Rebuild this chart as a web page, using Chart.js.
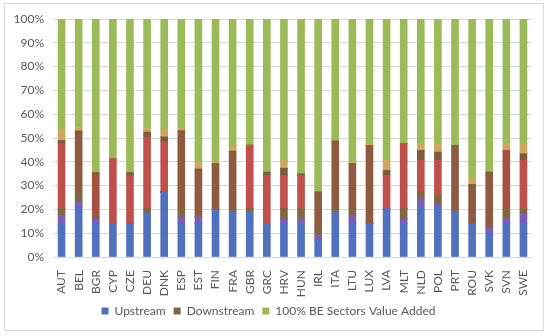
<!DOCTYPE html>
<html>
<head>
<meta charset="utf-8">
<script src="https://cdn.jsdelivr.net/npm/chart.js@4/dist/chart.umd.min.js"></script>
<style>
  html, body { margin: 0; padding: 0; background: #fff; }
  #wrap { position: relative; width: 550px; height: 336px; }
</style>
</head>
<body>
<div id="wrap"><canvas id="barChart" width="550" height="336"></canvas></div>
<script>
// 國家代碼
const countries = ['AUT', 'BEL', 'BGR', 'CYP', 'CZE', 'DEU', 'DNK', 'ESP', 'EST', 'FIN', 'FRA', 'GBR', 'GRC', 'HRV',
    'HUN', 'IRL', 'ITA', 'LTU', 'LUX', 'LVA', 'MLT', 'NLD', 'POL', 'PRT', 'ROU', 'SVK', 'SVN', 'SWE'];

// 各段高度 (%)，由下往上
const upstream     = [13.8, 21, 14, 14, 14, 18.5, 27.3, 14, 14, 19.8, 19, 19, 13.8, 14, 14, 7, 19, 14, 14, 20.2, 14, 21, 21, 18.9, 14, 10, 14, 14];
const upOverlap    = [3.6, 2, 2, 0, 0, 0, 0, 2.8, 2.8, 0, 0, 0, 0, 2, 2, 2, 0, 3.5, 0, 0, 2, 3.5, 1.4, 0, 0, 2, 2, 4.2];
const downstream   = [3.0, 4.3, 1, 0, 0, 1.8, 0, 3.5, 0.2, 0.5, 1.3, 1.3, 0, 4.3, 4.3, 3.6, 1.3, 2.8, 0, 0, 4.3, 2.8, 3.6, 1.4, 0, 1.3, 4, 2.1];
const downMid      = [27.2, 24.7, 17.3, 27.3, 20.3, 30.1, 21.2, 32.7, 18.5, 18.2, 23.7, 26.7, 20.5, 14, 14, 14.7, 28, 18.9, 32.9, 14.1, 27.3, 13.3, 14.6, 26.6, 15.4, 21, 24.8, 20.3];
const downTop      = [1.4, 1, 1.2, 0, 1.2, 2.1, 2, 0, 1.5, 0.8, 0.5, 0, 1.4, 3, 0.7, 0, 0.5, 0, 0, 2.1, 0, 4.2, 3.5, 0, 1.1, 1.4, 0, 2.8];
const beEdge       = [4.8, 1.5, 0, 0, 0, 1.5, 3.3, 1.2, 3, 0.7, 2, 0, 0, 3.2, 0, 0, 0, 0.8, 0.6, 4.2, 0, 2.8, 3.5, 0, 2.5, 0, 2.8, 4.2];
const beValueAdded = [46.2, 45.5, 64.5, 58.7, 64.5, 46, 46.2, 45.8, 60, 60, 53.5, 53, 64.3, 59.5, 65, 72.7, 51.2, 60, 52.5, 59.4, 52.4, 52.4, 52.4, 53.1, 67, 64.3, 52.4, 52.4];

// y 軸刻度
const yTicks = [0, 10, 20, 30, 40, 50, 60, 70, 80, 90, 100];

// 顏色
const RED = '#BF504C';
const BROWN = '#8E5A40';
const RBROWN = '#A4523F';
const midColors = [RED, BROWN, RBROWN, RED, RED, RED, RED, BROWN, BROWN, BROWN, BROWN, RED, RED, RED,
    RED, BROWN, BROWN, BROWN, BROWN, RED, RED, RED, RED, BROWN, BROWN, BROWN, RBROWN, RED];

const textColor = '#595959';
const fontFamily = 'Lato, "Liberation Sans", sans-serif';

// 外框
const framePlugin = {
    id: 'frame',
    afterDraw(chart) {
        const c = chart.ctx;
        c.save();
        c.strokeStyle = '#D9D9D9';
        c.lineWidth = 1;
        c.strokeRect(4.5, 3.5, 539, 327);
        c.restore();
    }
};

const legendNames = ['Upstream', 'Downstream', '100% BE Sectors Value Added'];

const ctx = document.getElementById('barChart').getContext('2d');
new Chart(ctx, {
    type: 'bar',
    data: {
        labels: countries,
        datasets: [
            { label: 'Upstream', data: upstream, backgroundColor: '#4F71BE' },
            { label: 'up-overlap', data: upOverlap, backgroundColor: '#7B5CBE' },
            { label: 'Downstream', data: downstream, backgroundColor: '#7E6741' },
            { label: 'down-mid', data: downMid, backgroundColor: midColors },
            { label: 'down-top', data: downTop, backgroundColor: '#7E5C3E' },
            { label: 'be-edge', data: beEdge, backgroundColor: '#CFA75E' },
            { label: '100% BE Sectors Value Added', data: beValueAdded, backgroundColor: '#9BBB59' }
        ]
    },
    options: {
        responsive: false,
        animation: false,
        devicePixelRatio: 1,
        layout: { padding: { left: 5, right: 18, top: 19, bottom: 9 } },
        datasets: { bar: { barThickness: 7 } },
        scales: {
            x: {
                stacked: true,
                grid: { display: false },
                border: { display: true, color: '#D9D9D9' },
                ticks: {
                    color: textColor,
                    font: { family: fontFamily, size: 12 },
                    minRotation: 90,
                    maxRotation: 90,
                    autoSkip: false,
                    padding: 5
                },
                afterFit: s => { s.height = 40; }
            },
            y: {
                stacked: true,
                min: 0,
                max: 100,
                grid: { color: '#D9D9D9', drawTicks: false },
                border: { display: false },
                afterBuildTicks: s => { s.ticks = yTicks.map(v => ({ value: v })); },
                ticks: {
                    color: textColor,
                    font: { family: fontFamily, size: 12 },
                    padding: 9,
                    callback: v => v + '%'
                },
                afterFit: s => { s.width = 48; }
            }
        },
        plugins: {
            tooltip: { enabled: false },
            legend: {
                position: 'bottom',
                labels: {
                    color: textColor,
                    font: { family: fontFamily, size: 12 },
                    boxWidth: 7,
                    boxHeight: 7,
                    padding: 8,
                    filter: item => legendNames.includes(item.text)
                }
            }
        }
    },
    plugins: [framePlugin]
});
</script>
</body>
</html>
